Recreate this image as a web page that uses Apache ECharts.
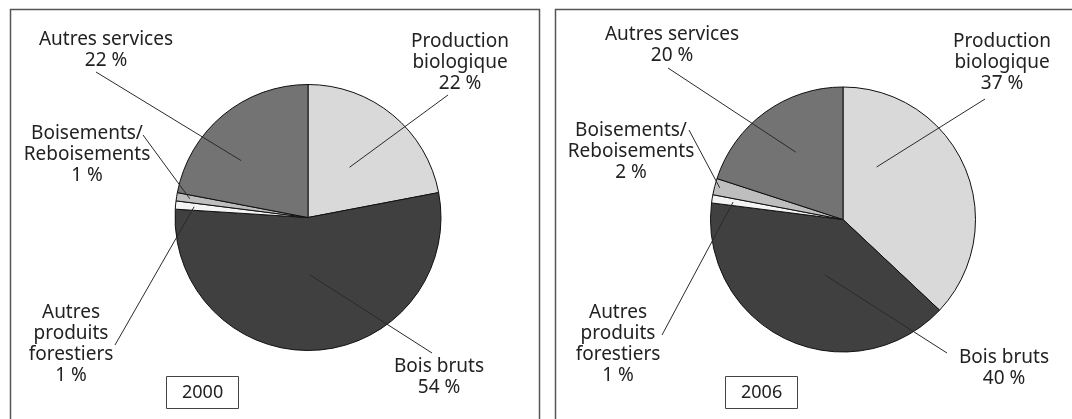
<!DOCTYPE html>
<html>
<head>
<meta charset="utf-8">
<script src="https://cdn.jsdelivr.net/npm/echarts@6/dist/echarts.min.js"></script>
<style>
html, body { margin: 0; padding: 0; background: #fff; }
#chart { width: 1072px; height: 419px; }
</style>
</head>
<body>
<div id="chart"></div>
<script>
var categories = ['Production biologique', 'Bois bruts', 'Autres produits forestiers', 'Boisements/Reboisements', 'Autres services'];
var labelNames = ['Production\nbiologique', 'Bois bruts', 'Autres\nproduits\nforestiers', 'Boisements/\nReboisements', 'Autres services'];
var years = ['2000', '2006'];
var values2000 = [22, 54, 1, 1, 22];
var values2006 = [37, 40, 1, 2, 20];

var colors = ['#d9d9d9', '#404040', '#f4f4f4', '#bebebe', '#737373'];
var font = 'Noto Sans';

// layout of each panel: pie, label block centres, leader line ends
var panels = [
    {
        box: [8, 7, 529],
        center: [308, 217.5],
        radius: 133,
        yearBox: [166, 377],
        labelPos: [[460, 63], [439, 377], [71, 344], [87, 155], [106, 50]],
        lineEnd: [[448, 95], [432, 353], [115, 345], [143, 135], [96, 72]],
        lineDepth: [0.49, 0.43, 0.86, 0.9, 0.66],
        lineTurn: [0, 2, 0, 0, -10]
    },
    {
        box: [553, 7, 530],
        center: [843, 219.5],
        radius: 132.5,
        yearBox: [725, 377],
        labelPos: [[1002, 63], [1004, 368], [618, 344], [631, 152], [672, 45]],
        lineEnd: [[985, 99], [947, 353], [662, 335], [689, 130], [668, 68]],
        lineDepth: [0.47, 0.44, 0.84, 0.96, 0.62],
        lineTurn: [-34, -7, 0, 0, 1]
    }
];

function pieData(values, filled) {
    return categories.map(function (name, i) {
        return { name: name, value: values[i], itemStyle: { color: filled ? colors[i] : 'rgba(0,0,0,0)' } };
    });
}

function pieSeries(values, p) {
    var total = 0;
    values.forEach(function (v) { total += v; });
    var base = {
        type: 'pie',
        z: 2,
        center: p.center,
        radius: p.radius,
        startAngle: 90,
        clockwise: true,
        silent: true,
        data: pieData(values, true),
        itemStyle: { borderColor: '#111', borderWidth: 1 },
        label: { show: false },
        labelLine: { show: false }
    };
    // same pie, unfilled, on top: carries the labels and leader lines
    var labels = {
        type: 'pie',
        z: 5,
        center: p.center,
        radius: p.radius,
        startAngle: 90,
        clockwise: true,
        silent: true,
        data: pieData(values, false),
        itemStyle: { borderWidth: 0 },
        label: {
            show: true,
            position: 'outside',
            overflow: 'none',
            fontFamily: font,
            fontSize: 19,
            lineHeight: 21,
            color: '#222',
            formatter: function (params) {
                return labelNames[params.dataIndex] + '\n' + params.value + ' %';
            }
        },
        labelLine: {
            show: true,
            length: 10,
            length2: 10,
            lineStyle: { color: '#2a2a2a', width: 1 }
        },
        labelLayout: function (params) {
            var i = params.dataIndex;
            var before = 0;
            for (var k = 0; k < i; k++) before += values[k];
            var ang = ((before + values[i] / 2) / total * 360 + p.lineTurn[i]) * Math.PI / 180;
            var d = p.radius * p.lineDepth[i];
            var inner = [p.center[0] + Math.sin(ang) * d, p.center[1] - Math.cos(ang) * d];
            return {
                x: p.labelPos[i][0],
                y: p.labelPos[i][1],
                align: 'center',
                verticalAlign: 'middle',
                labelLinePoints: [inner, p.lineEnd[i], p.lineEnd[i]]
            };
        }
    };
    return [base, labels];
}

var option = {
    backgroundColor: '#fff',
    animation: false,
    title: years.map(function (y, k) {
        return {
            text: y,
            left: panels[k].yearBox[0],
            top: panels[k].yearBox[1],
            padding: [7, 16],
            borderColor: '#444',
            borderWidth: 1,
            textStyle: { fontFamily: font, fontSize: 18, fontWeight: 'normal', color: '#222', lineHeight: 17 }
        };
    }),
    graphic: panels.map(function (p) {
        return {
            type: 'rect',
            left: p.box[0],
            top: p.box[1],
            shape: { width: p.box[2], height: 440 },
            style: { fill: 'none', stroke: '#555', lineWidth: 1.5 },
            silent: true
        };
    }),
    series: pieSeries(values2000, panels[0]).concat(pieSeries(values2006, panels[1]))
};

var chart = echarts.init(document.getElementById('chart'));
chart.setOption(option);
</script>
</body>
</html>
